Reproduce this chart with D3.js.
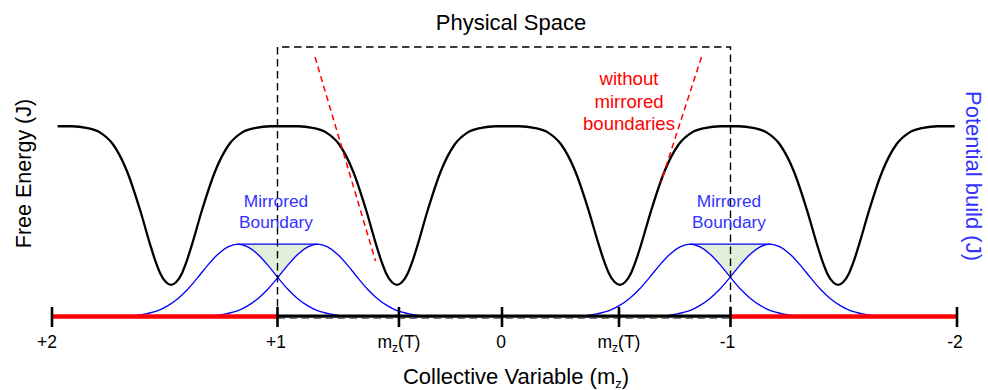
<!DOCTYPE html>
<html>
<head>
<meta charset="utf-8">
<script src="https://cdn.jsdelivr.net/npm/d3@7"></script>
<style>
  html, body { margin: 0; padding: 0; background: #fff; }
  svg { display: block; font-family: "Liberation Sans", Arial, sans-serif; }
</style>
</head>
<body>
<svg id="chart" width="988" height="390"></svg>
<script>
// Collective-variable axis: tick positions and their labels
const tickValues = [2, 1, 0.459, 0, -0.512, -1, -2];
const tickLabels = ["+2", "+1", "mz(T)", "0", "mz(T)", "-1", "-2"];
const tickLabelShift = [-5, -1.5, 0, -1, 0, -3, -2];

// Free-energy landscape: well centres and one half-well profile (offset, energy)
const wellCenters = [1.472, 0.468, -0.516, -1.475];
const wellOffsets = [0, 0.022, 0.049, 0.07, 0.093, 0.137, 0.195, 0.257, 0.314, 0.376, 0.44];
const wellEnergy  = [0, 0.016, 0.075, 0.152, 0.255, 0.47, 0.715, 0.885, 0.96, 0.99, 1.0];
const plateauEnergy = 1.0;
const curveEnds = [1.975, -1.99];

// Mirrored bias potentials: centres and one half-profile (offset, height)
const biasCenters = [1.176, 0.821, -0.823, -1.175];
const biasOffsets = [0, 0.044, 0.088, 0.133, 0.177, 0.221, 0.265, 0.31, 0.354, 0.42, 0.487];
const biasHeight  = [1, 0.96, 0.86, 0.71, 0.54, 0.38, 0.25, 0.15, 0.08, 0.03, 0];
const mirrorPairs = [[1.176, 0.821], [-0.823, -1.175]];
const boundaries = [1, -1];

// Physical space box and tangent extrapolations without mirroring
const boxRange = [1, -1];
const boxTop = 1.5;
const tangentLines = [
  [[0.833, 1.437], [0.5635, 0.15]],
  [[-0.873, 1.437], [-0.695, 0.645]]
];

const svg = d3.select("#chart");

const x = d3.scaleLinear()
  .domain([2, 1, 0, -1, -2])
  .range([52, 277.5, 502, 730.5, 957]);
const y = d3.scaleLinear().domain([-0.2, 1.5]).range([316.5, 47]);
const yBias = d3.scaleLinear().domain([0, 3.72]).range([316.5, 47]);
const axisY = y(-0.2);

// build the free-energy curve from the well profile
const fePoints = [[curveEnds[0], plateauEnergy]];
wellCenters.forEach(c => {
  for (let i = wellOffsets.length - 1; i >= 0; i--) fePoints.push([c + wellOffsets[i], wellEnergy[i]]);
  for (let i = 1; i < wellOffsets.length; i++) fePoints.push([c - wellOffsets[i], wellEnergy[i]]);
});
fePoints.push([curveEnds[1], plateauEnergy]);

function biasPoints(c) {
  const pts = [];
  for (let i = biasOffsets.length - 1; i >= 0; i--) pts.push([c + biasOffsets[i], biasHeight[i]]);
  for (let i = 1; i < biasOffsets.length; i++) pts.push([c - biasOffsets[i], biasHeight[i]]);
  return pts;
}

const feLine = d3.line().x(d => x(d[0])).y(d => y(d[1])).curve(d3.curveMonotoneX);
const biasLine = d3.line().x(d => x(d[0])).y(d => yBias(d[1])).curve(d3.curveMonotoneX);
const biasArea = d3.area().x(d => x(d[0])).y0(yBias(0)).y1(d => yBias(d[1])).curve(d3.curveMonotoneX);

// mask removing everything under the bias potentials
const defs = svg.append("defs");
const mask = defs.append("mask").attr("id", "aboveBias");
mask.append("rect").attr("width", 988).attr("height", 390).attr("fill", "#fff");
biasCenters.forEach(c => {
  mask.append("path").attr("d", biasArea(biasPoints(c))).attr("fill", "#000");
});

// shaded gap between the mirrored potentials
const fillG = svg.append("g").attr("mask", "url(#aboveBias)");
mirrorPairs.forEach(p => {
  const x0 = Math.min(x(p[0]), x(p[1])), x1 = Math.max(x(p[0]), x(p[1]));
  fillG.append("rect")
    .attr("x", x0).attr("y", yBias(1))
    .attr("width", x1 - x0).attr("height", yBias(0) - yBias(1))
    .attr("fill", "#e2efda");
});

// bias potentials
biasCenters.forEach(c => {
  svg.append("path").attr("d", biasLine(biasPoints(c)))
    .attr("fill", "none").attr("stroke", "#0000ff").attr("stroke-width", 1.3);
});
mirrorPairs.forEach(p => {
  svg.append("line")
    .attr("x1", x(p[0])).attr("x2", x(p[1]))
    .attr("y1", yBias(1)).attr("y2", yBias(1))
    .attr("stroke", "#0000ff").attr("stroke-width", 1.3);
});

// free-energy curve
svg.append("path").attr("d", feLine(fePoints))
  .attr("fill", "none").attr("stroke", "#000").attr("stroke-width", 2.3);

// extrapolated tangents
tangentLines.forEach(seg => {
  svg.append("line")
    .attr("x1", x(seg[0][0])).attr("y1", y(seg[0][1]))
    .attr("x2", x(seg[1][0])).attr("y2", y(seg[1][1]))
    .attr("stroke", "#ff0000").attr("stroke-width", 1.5)
    .attr("stroke-dasharray", "6,4");
});

// physical-space box
const bx0 = x(boxRange[0]), bx1 = x(boxRange[1]), by0 = y(boxTop);
svg.append("path")
  .attr("d", `M${bx0},${axisY + 2}V${by0}H${bx1}V${axisY + 2}`)
  .attr("fill", "none").attr("stroke", "#000").attr("stroke-width", 1.4)
  .attr("stroke-dasharray", "7.5,4.5");
svg.append("line")
  .attr("x1", bx0).attr("x2", bx1).attr("y1", axisY + 2).attr("y2", axisY + 2)
  .attr("stroke", "#777").attr("stroke-width", 1.2).attr("stroke-dasharray", "7.5,4.5");

// collective-variable axis
svg.append("line").attr("x1", x(2)).attr("x2", x(1)).attr("y1", axisY).attr("y2", axisY)
  .attr("stroke", "#ff0000").attr("stroke-width", 4.6);
svg.append("line").attr("x1", x(-1)).attr("x2", x(-2)).attr("y1", axisY).attr("y2", axisY)
  .attr("stroke", "#ff0000").attr("stroke-width", 4.6);
svg.append("line").attr("x1", x(1)).attr("x2", x(-1)).attr("y1", axisY - 0.3).attr("y2", axisY - 0.3)
  .attr("stroke", "#000").attr("stroke-width", 3.2);

const ticks = svg.append("g");
tickValues.forEach((v, i) => {
  ticks.append("line")
    .attr("x1", x(v)).attr("x2", x(v))
    .attr("y1", axisY - 9.5).attr("y2", axisY + 10.5)
    .attr("stroke", "#000").attr("stroke-width", 2.6);
  const lx = x(v) + tickLabelShift[i];
  const t = ticks.append("text")
    .attr("x", lx).attr("y", 347.5)
    .attr("text-anchor", "middle").attr("font-size", 17.5).attr("fill", "#000");
  const lab = tickLabels[i];
  if (lab.startsWith("mz")) {
    t.append("tspan").text("m");
    t.append("tspan").attr("font-size", 12).attr("dy", 4).text("z");
    t.append("tspan").attr("dy", -4).text(lab.slice(2));
  } else {
    t.text(lab);
  }
});

// axis titles
const xt = svg.append("text").attr("x", 516).attr("y", 384)
  .attr("text-anchor", "middle").attr("font-size", 22).attr("fill", "#000");
xt.append("tspan").text("Collective Variable (m");
xt.append("tspan").attr("font-size", 13).attr("dy", 4).text("z");
xt.append("tspan").attr("dy", -4).text(")");

svg.append("text").attr("transform", "translate(31,173.5) rotate(-90)")
  .attr("text-anchor", "middle").attr("font-size", 21.5).attr("fill", "#000")
  .text("Free Energy (J)");

svg.append("text").attr("transform", "translate(966,176) rotate(90)")
  .attr("text-anchor", "middle").attr("font-size", 22).attr("fill", "#3333ff")
  .text("Potential build (J)");

svg.append("text").attr("x", 511).attr("y", 29.5)
  .attr("text-anchor", "middle").attr("font-size", 22).attr("fill", "#000")
  .text("Physical Space");

// boundary annotations
boundaries.forEach(b => {
  const t = svg.append("text").attr("x", x(b) - 1.5).attr("y", 206.5)
    .attr("text-anchor", "middle").attr("font-size", 17.3).attr("fill", "#3333ff");
  t.append("tspan").attr("x", x(b) - 1.5).text("Mirrored");
  t.append("tspan").attr("x", x(b) - 1.5).attr("dy", 21.5).text("Boundary");
});

const note = svg.append("text").attr("y", 85)
  .attr("text-anchor", "middle").attr("font-size", 18.6).attr("fill", "#ff0000");
["without", "mirrored", "boundaries"].forEach((w, i) => {
  note.append("tspan").attr("x", 629).attr("dy", i === 0 ? 0 : 22.5).text(w);
});
</script>
</body>
</html>
